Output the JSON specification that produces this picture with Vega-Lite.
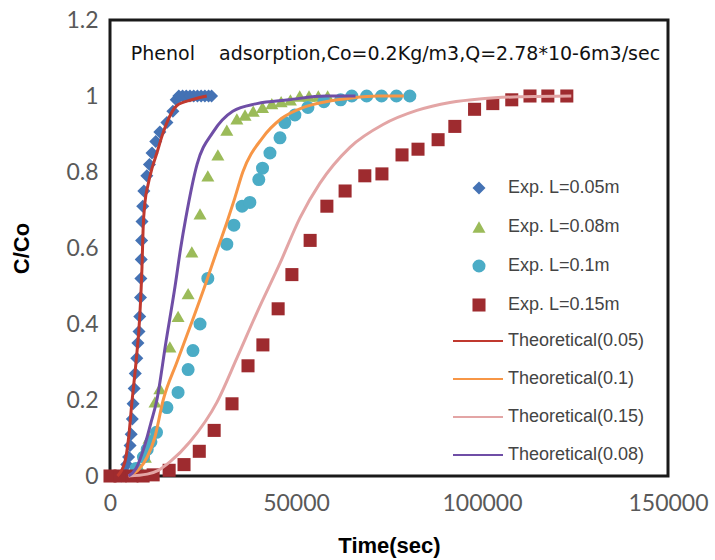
{
  "$schema": "https://vega.github.io/schema/vega-lite/v6.json",
  "width": 558,
  "height": 456,
  "autosize": {"type": "none"},
  "padding": {"left": 110, "top": 20, "right": 47, "bottom": 84},
  "background": "white",
  "config": {
    "view": {"stroke": "#1a1a1a", "strokeWidth": 3},
    "axis": {"grid": false, "ticks": false, "domain": false, "labelFont": "Lato", "labelFontSize": 23, "labelColor": "#595959", "labelFlush": false, "labelOverlap": false, "titleFont": "Liberation Sans", "titleFontSize": 22, "titleFontWeight": "bold", "titleColor": "#000000"}
  },
  "datasets": {
    "exp": [
      {"series": "Exp. L=0.05m", "t": 3000, "c": 0.0},
      {"series": "Exp. L=0.05m", "t": 4000, "c": 0.01},
      {"series": "Exp. L=0.05m", "t": 4500, "c": 0.03},
      {"series": "Exp. L=0.05m", "t": 5000, "c": 0.05},
      {"series": "Exp. L=0.05m", "t": 5400, "c": 0.08},
      {"series": "Exp. L=0.05m", "t": 5700, "c": 0.11},
      {"series": "Exp. L=0.05m", "t": 6000, "c": 0.15},
      {"series": "Exp. L=0.05m", "t": 6200, "c": 0.19},
      {"series": "Exp. L=0.05m", "t": 6500, "c": 0.23},
      {"series": "Exp. L=0.05m", "t": 6800, "c": 0.27},
      {"series": "Exp. L=0.05m", "t": 7200, "c": 0.31},
      {"series": "Exp. L=0.05m", "t": 7500, "c": 0.35},
      {"series": "Exp. L=0.05m", "t": 7800, "c": 0.38},
      {"series": "Exp. L=0.05m", "t": 8000, "c": 0.42},
      {"series": "Exp. L=0.05m", "t": 8200, "c": 0.47},
      {"series": "Exp. L=0.05m", "t": 8300, "c": 0.52},
      {"series": "Exp. L=0.05m", "t": 8400, "c": 0.57},
      {"series": "Exp. L=0.05m", "t": 8500, "c": 0.62},
      {"series": "Exp. L=0.05m", "t": 8600, "c": 0.67},
      {"series": "Exp. L=0.05m", "t": 8800, "c": 0.71},
      {"series": "Exp. L=0.05m", "t": 9100, "c": 0.75},
      {"series": "Exp. L=0.05m", "t": 9900, "c": 0.79},
      {"series": "Exp. L=0.05m", "t": 10600, "c": 0.82},
      {"series": "Exp. L=0.05m", "t": 11300, "c": 0.85},
      {"series": "Exp. L=0.05m", "t": 12300, "c": 0.88},
      {"series": "Exp. L=0.05m", "t": 13400, "c": 0.905},
      {"series": "Exp. L=0.05m", "t": 15300, "c": 0.93},
      {"series": "Exp. L=0.05m", "t": 16900, "c": 0.96},
      {"series": "Exp. L=0.05m", "t": 17800, "c": 0.99},
      {"series": "Exp. L=0.05m", "t": 18500, "c": 1.0},
      {"series": "Exp. L=0.05m", "t": 19500, "c": 1.0},
      {"series": "Exp. L=0.05m", "t": 20500, "c": 1.0},
      {"series": "Exp. L=0.05m", "t": 21500, "c": 1.0},
      {"series": "Exp. L=0.05m", "t": 22500, "c": 1.0},
      {"series": "Exp. L=0.05m", "t": 23500, "c": 1.0},
      {"series": "Exp. L=0.05m", "t": 24500, "c": 1.0},
      {"series": "Exp. L=0.05m", "t": 25500, "c": 1.0},
      {"series": "Exp. L=0.05m", "t": 26500, "c": 1.0},
      {"series": "Exp. L=0.05m", "t": 27300, "c": 1.0},
      {"series": "Exp. L=0.08m", "t": 7000, "c": 0.0},
      {"series": "Exp. L=0.08m", "t": 8000, "c": 0.02},
      {"series": "Exp. L=0.08m", "t": 9500, "c": 0.05},
      {"series": "Exp. L=0.08m", "t": 10500, "c": 0.1},
      {"series": "Exp. L=0.08m", "t": 12100, "c": 0.195},
      {"series": "Exp. L=0.08m", "t": 13400, "c": 0.23},
      {"series": "Exp. L=0.08m", "t": 16100, "c": 0.34},
      {"series": "Exp. L=0.08m", "t": 18300, "c": 0.42},
      {"series": "Exp. L=0.08m", "t": 21000, "c": 0.48},
      {"series": "Exp. L=0.08m", "t": 22000, "c": 0.59},
      {"series": "Exp. L=0.08m", "t": 24200, "c": 0.69},
      {"series": "Exp. L=0.08m", "t": 26300, "c": 0.79},
      {"series": "Exp. L=0.08m", "t": 29000, "c": 0.845},
      {"series": "Exp. L=0.08m", "t": 31400, "c": 0.91},
      {"series": "Exp. L=0.08m", "t": 34100, "c": 0.94},
      {"series": "Exp. L=0.08m", "t": 36300, "c": 0.95},
      {"series": "Exp. L=0.08m", "t": 38500, "c": 0.96},
      {"series": "Exp. L=0.08m", "t": 41000, "c": 0.97},
      {"series": "Exp. L=0.08m", "t": 43500, "c": 0.98},
      {"series": "Exp. L=0.08m", "t": 46000, "c": 0.985},
      {"series": "Exp. L=0.08m", "t": 48500, "c": 0.99},
      {"series": "Exp. L=0.08m", "t": 51000, "c": 1.0},
      {"series": "Exp. L=0.08m", "t": 53500, "c": 1.0},
      {"series": "Exp. L=0.08m", "t": 56000, "c": 1.0},
      {"series": "Exp. L=0.08m", "t": 58500, "c": 1.0},
      {"series": "Exp. L=0.1m", "t": 7000, "c": 0.02},
      {"series": "Exp. L=0.1m", "t": 9000, "c": 0.05},
      {"series": "Exp. L=0.1m", "t": 10000, "c": 0.07},
      {"series": "Exp. L=0.1m", "t": 11000, "c": 0.09},
      {"series": "Exp. L=0.1m", "t": 12500, "c": 0.115},
      {"series": "Exp. L=0.1m", "t": 15300, "c": 0.18},
      {"series": "Exp. L=0.1m", "t": 18300, "c": 0.22},
      {"series": "Exp. L=0.1m", "t": 21000, "c": 0.28},
      {"series": "Exp. L=0.1m", "t": 22300, "c": 0.33},
      {"series": "Exp. L=0.1m", "t": 24200, "c": 0.4},
      {"series": "Exp. L=0.1m", "t": 26300, "c": 0.52},
      {"series": "Exp. L=0.1m", "t": 31400, "c": 0.61},
      {"series": "Exp. L=0.1m", "t": 33300, "c": 0.66},
      {"series": "Exp. L=0.1m", "t": 35500, "c": 0.71},
      {"series": "Exp. L=0.1m", "t": 37600, "c": 0.72},
      {"series": "Exp. L=0.1m", "t": 40000, "c": 0.78},
      {"series": "Exp. L=0.1m", "t": 41000, "c": 0.81},
      {"series": "Exp. L=0.1m", "t": 43000, "c": 0.85},
      {"series": "Exp. L=0.1m", "t": 45700, "c": 0.89},
      {"series": "Exp. L=0.1m", "t": 47000, "c": 0.93},
      {"series": "Exp. L=0.1m", "t": 49700, "c": 0.95},
      {"series": "Exp. L=0.1m", "t": 53200, "c": 0.97},
      {"series": "Exp. L=0.1m", "t": 57500, "c": 0.985},
      {"series": "Exp. L=0.1m", "t": 62000, "c": 0.99},
      {"series": "Exp. L=0.1m", "t": 65000, "c": 1.0},
      {"series": "Exp. L=0.1m", "t": 69000, "c": 1.0},
      {"series": "Exp. L=0.1m", "t": 73000, "c": 1.0},
      {"series": "Exp. L=0.1m", "t": 77000, "c": 1.0},
      {"series": "Exp. L=0.1m", "t": 80600, "c": 1.0},
      {"series": "Exp. L=0.15m", "t": 0, "c": 0.0},
      {"series": "Exp. L=0.15m", "t": 2700, "c": 0.0},
      {"series": "Exp. L=0.15m", "t": 5900, "c": 0.0},
      {"series": "Exp. L=0.15m", "t": 8900, "c": 0.0},
      {"series": "Exp. L=0.15m", "t": 11600, "c": 0.003},
      {"series": "Exp. L=0.15m", "t": 15900, "c": 0.015},
      {"series": "Exp. L=0.15m", "t": 19900, "c": 0.03},
      {"series": "Exp. L=0.15m", "t": 24000, "c": 0.065},
      {"series": "Exp. L=0.15m", "t": 28000, "c": 0.12},
      {"series": "Exp. L=0.15m", "t": 32800, "c": 0.19},
      {"series": "Exp. L=0.15m", "t": 37100, "c": 0.29},
      {"series": "Exp. L=0.15m", "t": 41100, "c": 0.345},
      {"series": "Exp. L=0.15m", "t": 45200, "c": 0.44},
      {"series": "Exp. L=0.15m", "t": 48900, "c": 0.53},
      {"series": "Exp. L=0.15m", "t": 53800, "c": 0.62},
      {"series": "Exp. L=0.15m", "t": 58300, "c": 0.71},
      {"series": "Exp. L=0.15m", "t": 63200, "c": 0.75},
      {"series": "Exp. L=0.15m", "t": 68500, "c": 0.79},
      {"series": "Exp. L=0.15m", "t": 73100, "c": 0.795},
      {"series": "Exp. L=0.15m", "t": 78500, "c": 0.845},
      {"series": "Exp. L=0.15m", "t": 82800, "c": 0.86},
      {"series": "Exp. L=0.15m", "t": 88200, "c": 0.885},
      {"series": "Exp. L=0.15m", "t": 92700, "c": 0.92},
      {"series": "Exp. L=0.15m", "t": 98000, "c": 0.965},
      {"series": "Exp. L=0.15m", "t": 102900, "c": 0.98},
      {"series": "Exp. L=0.15m", "t": 108000, "c": 0.99},
      {"series": "Exp. L=0.15m", "t": 112900, "c": 1.0},
      {"series": "Exp. L=0.15m", "t": 117700, "c": 1.0},
      {"series": "Exp. L=0.15m", "t": 122800, "c": 1.0}
    ],
    "theory": [
      {"series": "Theoretical(0.05)", "t": 2000, "c": 0.0},
      {"series": "Theoretical(0.05)", "t": 4000, "c": 0.037},
      {"series": "Theoretical(0.05)", "t": 5000, "c": 0.1},
      {"series": "Theoretical(0.05)", "t": 5900, "c": 0.195},
      {"series": "Theoretical(0.05)", "t": 7000, "c": 0.3},
      {"series": "Theoretical(0.05)", "t": 8000, "c": 0.42},
      {"series": "Theoretical(0.05)", "t": 8600, "c": 0.55},
      {"series": "Theoretical(0.05)", "t": 8900, "c": 0.65},
      {"series": "Theoretical(0.05)", "t": 9400, "c": 0.72},
      {"series": "Theoretical(0.05)", "t": 10200, "c": 0.765},
      {"series": "Theoretical(0.05)", "t": 11300, "c": 0.81},
      {"series": "Theoretical(0.05)", "t": 12600, "c": 0.85},
      {"series": "Theoretical(0.05)", "t": 14000, "c": 0.895},
      {"series": "Theoretical(0.05)", "t": 15300, "c": 0.93},
      {"series": "Theoretical(0.05)", "t": 18000, "c": 0.975},
      {"series": "Theoretical(0.05)", "t": 22000, "c": 0.99},
      {"series": "Theoretical(0.05)", "t": 26000, "c": 1.0},
      {"series": "Theoretical(0.1)", "t": 5000, "c": 0.0},
      {"series": "Theoretical(0.1)", "t": 8000, "c": 0.02},
      {"series": "Theoretical(0.1)", "t": 10000, "c": 0.05},
      {"series": "Theoretical(0.1)", "t": 12000, "c": 0.1},
      {"series": "Theoretical(0.1)", "t": 14300, "c": 0.2},
      {"series": "Theoretical(0.1)", "t": 18000, "c": 0.3},
      {"series": "Theoretical(0.1)", "t": 21800, "c": 0.4},
      {"series": "Theoretical(0.1)", "t": 25500, "c": 0.5},
      {"series": "Theoretical(0.1)", "t": 29000, "c": 0.6},
      {"series": "Theoretical(0.1)", "t": 31500, "c": 0.67},
      {"series": "Theoretical(0.1)", "t": 33500, "c": 0.73},
      {"series": "Theoretical(0.1)", "t": 35700, "c": 0.8},
      {"series": "Theoretical(0.1)", "t": 41000, "c": 0.89},
      {"series": "Theoretical(0.1)", "t": 46000, "c": 0.94},
      {"series": "Theoretical(0.1)", "t": 52000, "c": 0.97},
      {"series": "Theoretical(0.1)", "t": 58000, "c": 0.985},
      {"series": "Theoretical(0.1)", "t": 65000, "c": 0.995},
      {"series": "Theoretical(0.1)", "t": 72000, "c": 1.0},
      {"series": "Theoretical(0.1)", "t": 79000, "c": 1.0},
      {"series": "Theoretical(0.15)", "t": 5000, "c": 0.0},
      {"series": "Theoretical(0.15)", "t": 10000, "c": 0.005},
      {"series": "Theoretical(0.15)", "t": 13000, "c": 0.015},
      {"series": "Theoretical(0.15)", "t": 16100, "c": 0.037},
      {"series": "Theoretical(0.15)", "t": 21500, "c": 0.09},
      {"series": "Theoretical(0.15)", "t": 28800, "c": 0.195},
      {"series": "Theoretical(0.15)", "t": 34100, "c": 0.31},
      {"series": "Theoretical(0.15)", "t": 39500, "c": 0.43},
      {"series": "Theoretical(0.15)", "t": 45700, "c": 0.56},
      {"series": "Theoretical(0.15)", "t": 51100, "c": 0.68},
      {"series": "Theoretical(0.15)", "t": 56400, "c": 0.77},
      {"series": "Theoretical(0.15)", "t": 64500, "c": 0.865},
      {"series": "Theoretical(0.15)", "t": 73400, "c": 0.925},
      {"series": "Theoretical(0.15)", "t": 82500, "c": 0.962},
      {"series": "Theoretical(0.15)", "t": 91400, "c": 0.983},
      {"series": "Theoretical(0.15)", "t": 100000, "c": 0.993},
      {"series": "Theoretical(0.15)", "t": 110000, "c": 0.998},
      {"series": "Theoretical(0.15)", "t": 124000, "c": 1.0},
      {"series": "Theoretical(0.08)", "t": 5000, "c": 0.0},
      {"series": "Theoretical(0.08)", "t": 7000, "c": 0.02},
      {"series": "Theoretical(0.08)", "t": 9000, "c": 0.07},
      {"series": "Theoretical(0.08)", "t": 11000, "c": 0.14},
      {"series": "Theoretical(0.08)", "t": 12600, "c": 0.2},
      {"series": "Theoretical(0.08)", "t": 15000, "c": 0.35},
      {"series": "Theoretical(0.08)", "t": 17500, "c": 0.5},
      {"series": "Theoretical(0.08)", "t": 19000, "c": 0.6},
      {"series": "Theoretical(0.08)", "t": 20400, "c": 0.68},
      {"series": "Theoretical(0.08)", "t": 23400, "c": 0.82},
      {"series": "Theoretical(0.08)", "t": 27700, "c": 0.905},
      {"series": "Theoretical(0.08)", "t": 33000, "c": 0.96},
      {"series": "Theoretical(0.08)", "t": 39500, "c": 0.98},
      {"series": "Theoretical(0.08)", "t": 48000, "c": 0.99},
      {"series": "Theoretical(0.08)", "t": 58000, "c": 1.0},
      {"series": "Theoretical(0.08)", "t": 66000, "c": 1.0}
    ],
    "note": [
      {"label": "Phenol\u00a0\u00a0\u00a0 adsorption,Co=0.2Kg/m3,Q=2.78*10-6m3/sec", "t": 5600, "c": 1.11}
    ]
  },
  "layer": [
    {
      "data": {"name": "exp"},
      "mark": {"type": "point", "filled": true, "opacity": 1},
      "encoding": {
        "x": {"field": "t", "type": "quantitative", "scale": {"domain": [0, 150000], "nice": false}, "axis": {"values": [0, 50000, 100000, 150000], "format": "d", "title": "Time(sec)", "labelPadding": 16, "titlePadding": 20}},
        "y": {"field": "c", "type": "quantitative", "scale": {"domain": [0, 1.2], "nice": false}, "axis": {"values": [0, 0.2, 0.4, 0.6, 0.8, 1, 1.2], "format": "~g", "title": "C/Co", "labelPadding": 12, "titlePadding": 32}},
        "color": {"field": "series", "type": "nominal", "scale": {"domain": ["Exp. L=0.05m", "Exp. L=0.08m", "Exp. L=0.1m", "Exp. L=0.15m"], "range": ["#4472b4", "#9bbb59", "#4bacc6", "#9e2b2f"]}, "legend": {"orient": "none", "legendX": 360, "legendY": 159, "title": null, "symbolSize": 45, "labelFont": "Liberation Sans", "labelFontSize": 18, "labelColor": "#444444", "rowPadding": 21, "labelOffset": 20}},
        "shape": {"field": "series", "type": "nominal", "scale": {"domain": ["Exp. L=0.05m", "Exp. L=0.08m", "Exp. L=0.1m", "Exp. L=0.15m"], "range": ["diamond", "triangle-up", "circle", "square"]}, "legend": {"orient": "none", "legendX": 360, "legendY": 159, "title": null, "symbolSize": 45, "labelFont": "Liberation Sans", "labelFontSize": 18, "labelColor": "#444444", "rowPadding": 21, "labelOffset": 20}},
        "size": {"field": "series", "type": "nominal", "scale": {"domain": ["Exp. L=0.05m", "Exp. L=0.08m", "Exp. L=0.1m", "Exp. L=0.15m"], "range": [170, 170, 240, 250]}, "legend": null}
      }
    },
    {
      "data": {"name": "theory"},
      "mark": {"type": "line", "strokeWidth": 3, "interpolate": "monotone"},
      "encoding": {
        "x": {"field": "t", "type": "quantitative"},
        "y": {"field": "c", "type": "quantitative"},
        "stroke": {"field": "series", "type": "nominal", "scale": {"domain": ["Theoretical(0.05)", "Theoretical(0.1)", "Theoretical(0.15)", "Theoretical(0.08)"], "range": ["#c0392f", "#f79646", "#e3a5a5", "#6f4ea6"]}, "legend": {"orient": "none", "legendX": 342, "legendY": 295, "title": null, "symbolType": "stroke", "symbolSize": 2500, "symbolStrokeWidth": 2, "labelFont": "Liberation Sans", "labelFontSize": 18, "labelColor": "#444444", "rowPadding": 3, "labelOffset": 4}}
      }
    },
    {
      "data": {"name": "note"},
      "mark": {"type": "text", "align": "left", "baseline": "middle", "font": "DejaVu Sans", "fontSize": 19, "color": "#111111"},
      "encoding": {
        "x": {"field": "t", "type": "quantitative"},
        "y": {"field": "c", "type": "quantitative"},
        "text": {"field": "label"}
      }
    }
  ]
}
